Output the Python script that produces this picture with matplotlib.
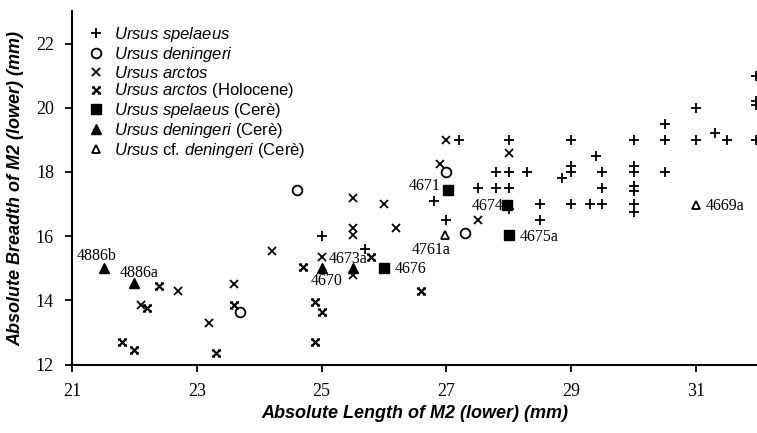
import matplotlib.pyplot as plt
import numpy as np
from matplotlib.path import Path
from matplotlib.lines import Line2D

plt.rcParams['mathtext.fontset'] = 'custom'
plt.rcParams['mathtext.it'] = 'Liberation Sans:italic'
plt.rcParams['mathtext.rm'] = 'Liberation Sans'

# Ursus spelaeus
spel_x = [25.0, 25.7, 26.8, 27.0, 27.2, 27.5, 27.8, 28.0, 27.8, 28.0, 28.3, 28.0, 28.5, 28.5,
          28.85, 29.0, 29.0, 29.0, 29.0, 29.3, 29.4, 29.5, 29.5, 29.5, 30.0, 30.0, 30.0, 30.0,
          30.0, 30.0, 30.0, 30.5, 30.5, 30.5, 31.0, 31.0, 31.3, 31.5, 31.97, 31.97, 31.97, 31.97,
          27.05, 28.0]
spel_y = [16.0, 15.6, 17.1, 16.5, 19.0, 17.5, 17.5, 17.5, 18.0, 18.0, 18.0, 19.0, 17.0, 16.5,
          17.8, 18.2, 18.0, 19.0, 17.0, 17.0, 18.5, 18.0, 17.5, 17.0, 19.0, 18.2, 18.0, 17.55,
          17.4, 17.0, 16.75, 19.5, 19.0, 18.0, 20.0, 19.0, 19.2, 19.0, 21.0, 20.2, 20.1, 19.0,
          17.4, 16.85]

# Ursus deningeri
den_x = [23.7, 24.6, 27.0, 27.3]
den_y = [13.65, 17.45, 18.0, 16.1]

# Ursus arctos
arc_x = [22.7, 22.1, 23.2, 23.6, 24.2, 25.5, 26.0, 25.5, 25.5, 26.2, 25.0, 25.5, 27.0, 28.0,
         26.9, 27.5]
arc_y = [14.3, 13.85, 13.3, 14.5, 15.55, 17.2, 17.0, 16.25, 16.05, 16.25, 15.35, 14.8, 19.0,
         18.6, 18.25, 16.5]

# Ursus arctos (Holocene)
hol_x = [22.4, 22.2, 21.8, 22.0, 23.3, 23.6, 24.7, 25.8, 26.6, 24.9, 25.0, 24.9]
hol_y = [14.45, 13.75, 12.7, 12.45, 12.35, 13.85, 15.05, 15.35, 14.3, 13.95, 13.65, 12.7]

# Cerè specimens
cere_spel_x = [26.0, 27.02, 27.97, 28.0]
cere_spel_y = [15.02, 17.45, 16.98, 16.05]
cere_spel_lab = ['4676', '4671', '4674', '4675a']

cere_den_x = [21.52, 22.0, 25.0, 25.5]
cere_den_y = [15.02, 14.55, 15.02, 15.0]
cere_den_lab = ['4886b', '4886a', '4670', '4673a']

cere_cf_x = [26.98, 31.0]
cere_cf_y = [16.05, 16.97]
cere_cf_lab = ['4761a', '4669a']

# x with small serifs on each arm
hol_marker = Path(
    [(-1, -1), (1, 1), (-1, 1), (1, -1),
     (-1.45, 1), (-0.55, 1), (0.55, 1), (1.45, 1),
     (-1.45, -1), (-0.55, -1), (0.55, -1), (1.45, -1)],
    [Path.MOVETO, Path.LINETO, Path.MOVETO, Path.LINETO,
     Path.MOVETO, Path.LINETO, Path.MOVETO, Path.LINETO,
     Path.MOVETO, Path.LINETO, Path.MOVETO, Path.LINETO])

fig = plt.figure(figsize=(7.57, 4.33), dpi=100)
ax = fig.add_axes([0.0951, 0.158, 0.9067, 0.8155])

kw = dict(linestyle='none', color='k', clip_on=False)
ax.plot(spel_x, spel_y, marker='+', markersize=7, mew=1.3, **kw)
ax.plot(den_x, den_y, marker='o', markersize=7, mfc='white', mec='k', mew=1.3, **kw)
ax.plot(arc_x, arc_y, marker='x', markersize=6, mew=1.3, **kw)
ax.plot(hol_x, hol_y, marker=hol_marker, markersize=6.5, mew=1.6, **kw)
ax.plot(cere_spel_x, cere_spel_y, marker='s', markersize=7, mfc='k', mec='k', **kw)
ax.plot(cere_den_x, cere_den_y, marker='^', markersize=7, mfc='k', mec='k', **kw)
ax.plot(cere_cf_x, cere_cf_y, marker='^', markersize=6, mfc='white', mec='k', mew=1.3, **kw)

tfont = dict(family='Liberation Serif', fontsize=11.5)
# label placement (data units)
lab_pos = {
    '4886b': (21.39, 15.37, 'center'), '4886a': (22.07, 14.85, 'center'),
    '4670': (25.08, 14.6, 'center'), '4673a': (25.43, 15.3, 'center'),
    '4676': (26.18, 14.97, 'left'), '4671': (26.9, 17.57, 'right'),
    '4674': (27.91, 16.95, 'right'), '4675a': (28.18, 15.97, 'left'),
    '4761a': (26.76, 15.58, 'center'), '4669a': (31.16, 16.95, 'left'),
}
for lab in cere_spel_lab + cere_den_lab + cere_cf_lab:
    x, y, ha = lab_pos[lab]
    ax.text(x, y, lab, ha=ha, va='center', **tfont)

ax.set_xlim(21, 32)
ax.set_ylim(12, 23)
ax.set_xticks(np.arange(21, 32, 2))
ax.set_yticks(np.arange(12, 23, 2))
for s in ['top', 'right']:
    ax.spines[s].set_visible(False)
for s in ['left', 'bottom']:
    ax.spines[s].set_linewidth(1.5)
ax.tick_params(direction='out', length=5, width=1.3, pad=8)
for t in ax.get_xticklabels() + ax.get_yticklabels():
    t.set_family('Liberation Serif')
    t.set_fontsize(13)

lfont = dict(family='Liberation Sans', weight='bold', style='italic', size=13)
ax.set_xlabel('Absolute Length of M2 (lower) (mm)', fontdict=lfont, labelpad=4)
ax.set_ylabel('Absolute Breadth of M2 (lower) (mm)', fontdict=lfont, labelpad=8)

handles = [
    Line2D([], [], marker='+', markersize=7, mew=1.3, color='k', ls='none'),
    Line2D([], [], marker='o', markersize=7, mfc='white', mec='k', mew=1.3, ls='none'),
    Line2D([], [], marker='x', markersize=6, mew=1.3, color='k', ls='none'),
    Line2D([], [], marker=hol_marker, markersize=6.5, mew=1.6, color='k', ls='none'),
    Line2D([], [], marker='s', markersize=7, color='k', ls='none'),
    Line2D([], [], marker='^', markersize=7, color='k', ls='none'),
    Line2D([], [], marker='^', markersize=6, mfc='white', mec='k', mew=1.3, ls='none'),
]
labels = [
    r'$\mathit{Ursus\ spelaeus}$',
    r'$\mathit{Ursus\ deningeri}$',
    r'$\mathit{Ursus\ arctos}$',
    r'$\mathit{Ursus\ arctos}$ (Holocene)',
    r'$\mathit{Ursus\ spelaeus}$ (Cerè)',
    r'$\mathit{Ursus\ deningeri}$ (Cerè)',
    r'$\mathit{Ursus}$ cf. $\mathit{deningeri}$ (Cerè)',
]
fig.legend(handles, labels, loc='upper left', bbox_to_anchor=(88 / 757, 1 - 25 / 433),
           frameon=False, prop=dict(family='Liberation Sans', size=12),
           handlelength=1.0, handletextpad=0.55, labelspacing=0.05, borderpad=0, borderaxespad=0)

plt.savefig('out.png', dpi=100)
